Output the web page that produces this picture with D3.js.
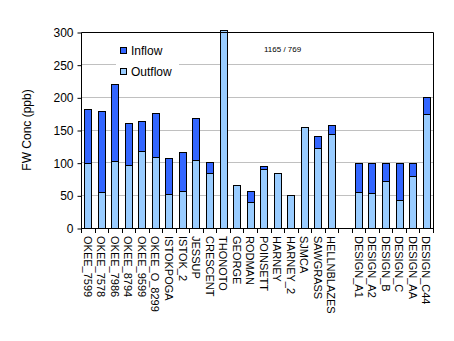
<!DOCTYPE html>
<html><head><meta charset="utf-8">
<script src="https://cdn.jsdelivr.net/npm/d3@7"></script>
<style>body{margin:0;background:#fff}svg{display:block}text{font-family:Arial,"Liberation Sans",sans-serif}</style>
</head><body><svg id="c" width="454" height="341"></svg>
<script>
const categories = ["OKEE_7599","OKEE_7578","OKEE_7986","OKEE_8794","OKEE_9599","OKEE_O_8299","ISTOKPOGA","ISTOK_2","JESSUP","CRESCENT","THONOTO","GEORGE","RODMAN","POINSETT","HARNEY","HARNEY_2","SJMCA","SAWGRASS","HELLNBLAZES","","DESIGN_A1","DESIGN_A2","DESIGN_B","DESIGN_C","DESIGN_AA","DESIGN_C44"];
const inflow  = [182,179,220,160,164,176,107,116,168,101,1165,null,57,95,null,null,null,141,157,null,100,100,100,100,100,200];
const outflow = [100,55,102,96,118,109,52,56,104,84,769,66,40,90,84,50,154,122,144,null,55,53,72,43,80,174];
const yTicks = [0,50,100,150,200,250,300];
const seriesNames = ["Inflow","Outflow"];
const colors = {Inflow:"#3366FF", Outflow:"#99CCFF"};

const svg = d3.select("#c");
const L=81, R=433, T=32, B=228;
const x = d3.scaleBand().domain(categories.map((c,i)=>i)).range([L,R]).paddingInner(0.47).paddingOuter(0.235);
const xb = d3.scaleBand().domain(categories.map((c,i)=>i)).range([L,R]);
const y = d3.scaleLinear().domain([0,300]).range([B,T]);

// gridlines
svg.append("g").selectAll("line").data(yTicks.filter(t=>t>0&&t<300)).join("line")
  .attr("x1",L).attr("x2",R).attr("y1",d=>y(d)).attr("y2",d=>y(d))
  .attr("stroke","#c0c0c0").attr("stroke-width",1).attr("shape-rendering","crispEdges");

svg.append("clipPath").attr("id","clip").append("rect").attr("x",L).attr("y",T-2).attr("width",R-L).attr("height",B-T+2);
const bars = svg.append("g").attr("clip-path","url(#clip)");
const cl = v => Math.min(v, 303);
[["Inflow",inflow],["Outflow",outflow]].forEach(([name,arr])=>{
  bars.append("g").selectAll("rect").data(arr.map((v,i)=>({v,i})).filter(d=>d.v!=null)).join("rect")
    .attr("x",d=>Math.round(x(d.i))+0.5).attr("width",Math.round(x.bandwidth()))
    .attr("y",d=>Math.round(y(cl(d.v)))+0.5).attr("height",d=>B-Math.round(y(cl(d.v))))
    .attr("fill",colors[name]).attr("stroke","#000").attr("stroke-width",1);
});

// frame
svg.append("path").attr("d",`M${L+0.5},${B+0.5}V${T+0.5}H${R+0.5}V${B+0.5}H${L+0.5}`)
  .attr("fill","none").attr("stroke","#000").attr("stroke-width",1);

// y axis
const ya = svg.append("g").attr("transform",`translate(${L+0.5},0.5)`)
  .call(d3.axisLeft(y).tickValues(yTicks).tickSize(4).tickPadding(4));
ya.select(".domain").remove();
ya.selectAll("line").attr("stroke","#000");
ya.selectAll("text").attr("font-size",12).attr("fill","#000").attr("font-family","Arial, Liberation Sans, sans-serif");

// x axis ticks at boundaries
svg.append("g").selectAll("line").data(d3.range(categories.length+1)).join("line")
  .attr("x1",i=>Math.round(L+i*xb.bandwidth())+0.5).attr("x2",i=>Math.round(L+i*xb.bandwidth())+0.5)
  .attr("y1",B).attr("y2",B+5).attr("stroke","#000");
svg.append("g").selectAll("text").data(categories.map((c,i)=>({c,i}))).join("text")
  .attr("transform",d=>`translate(${xb(d.i)+xb.bandwidth()/2-4},${B+8}) rotate(90)`)
  .attr("font-size",11).attr("fill","#000").text(d=>d.c);

// y title
svg.append("text").attr("transform","translate(31,130) rotate(-90)").attr("text-anchor","middle")
  .attr("font-size",12).text("FW Conc (ppb)");

// legend
const lg = svg.append("g");
lg.append("rect").attr("x",116).attr("y",40).attr("width",63).attr("height",38).attr("fill","#fff");
seriesNames.forEach((n,k)=>{
  lg.append("rect").attr("x",120.5).attr("y",47.5+k*21).attr("width",6).attr("height",6)
    .attr("fill",colors[n]).attr("stroke","#000");
  lg.append("text").attr("x",131).attr("y",55+k*21).attr("font-size",12).text(n);
});

// annotation
svg.append("text").attr("x",264).attr("y",52).attr("font-size",8).text(`${inflow[10]} / ${outflow[10]}`);
</script></body></html>
